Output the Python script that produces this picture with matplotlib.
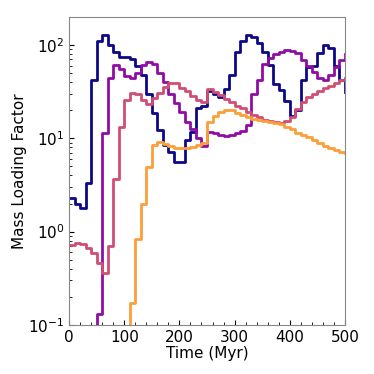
import numpy as np
import matplotlib
matplotlib.use('Agg')
import matplotlib.pyplot as plt

# time bins (Myr), 10 Myr wide
time = np.arange(0, 510, 10)

# mass loading factor per bin (0.01 = below plot range)
run_a = [2.3, 2.0, 1.8, 3.3, 42, 111, 128, 99, 84, 75,
         75, 70, 60, 48, 30, 18.6, 12.3, 8.5, 7.1, 5.6,
         5.6, 9.6, 11.8, 21, 22, 32, 29.5, 27.5, 34, 48,
         85, 111, 127, 121, 104, 83, 61, 38, 33, 25,
         17.5, 20, 42, 58, 60, 82, 100, 92, 60, 42, 31]
run_b = [0.01, 0.01, 0.01, 0.01, 0.01, 0.13, 11.5, 44, 61, 55,
         46, 44, 50, 61, 65, 63, 50, 40, 30, 24,
         19, 15, 12.5, 10, 8.3, 11.8, 11.4, 10.9, 10.7, 10.9,
         11.4, 12, 13.9, 30, 42, 62, 73, 80, 84, 88,
         87, 82, 69, 59, 51, 44, 42, 48, 58, 69, 79]
run_c = [0.72, 0.76, 0.74, 0.66, 0.59, 0.46, 0.36, 0.71, 3.7, 13.3,
         25.8, 30.4, 30, 26, 23.4, 26.7, 30.9, 35.8, 39.5, 39,
         34.4, 32.5, 28.5, 25.8, 24.5, 34, 31.6, 29, 26.4, 24.4,
         22.4, 21, 19.3, 17.8, 16.7, 15.7, 15.2, 15, 14.5, 15.5,
         17.1, 20.5, 24.7, 27.6, 29.9, 32.4, 34.4, 36.5, 38.9, 41.6, 44]
run_d = [0.01, 0.01, 0.01, 0.01, 0.01, 0.01, 0.01, 0.01, 0.01, 0.01,
         0.01, 0.17, 0.84, 2.0, 4.9, 8.4, 9.2, 8.7, 8.3, 7.9,
         7.8, 7.9, 8.0, 8.5, 8.9, 15, 17.5, 19, 20, 20,
         18.6, 17.8, 17.1, 16.1, 15.7, 15.4, 14.9, 14.7, 14.3, 13.3,
         12.5, 11.5, 10.9, 10.3, 9.6, 9.0, 8.3, 7.8, 7.5, 7.2, 7.0]

colors = [plt.cm.plasma(c) for c in [0.0, 0.3, 0.52, 0.78]]

fig = plt.figure(figsize=(3.74, 3.74), dpi=100)
ax = fig.add_axes([0.185, 0.131, 0.737, 0.824])

for vals, col in zip([run_a, run_b, run_c, run_d], colors):
    ax.step(time, vals, where='post', color=col, lw=2)

ax.set_yscale('log')
ax.set_xlim(0, 500)
ax.set_ylim(0.1, 200)
ax.set_xticks([0, 100, 200, 300, 400, 500])
ax.set_xticks(np.arange(0, 501, 20), minor=True)
ax.tick_params(which='both', direction='in', labelsize=11)
ax.set_xlabel('Time (Myr)', fontsize=11, labelpad=1)
ax.set_ylabel('Mass Loading Factor', fontsize=11, labelpad=0.5)
for s in ax.spines.values():
    s.set_color('#888888')

fig.savefig('out.png', dpi=100)
